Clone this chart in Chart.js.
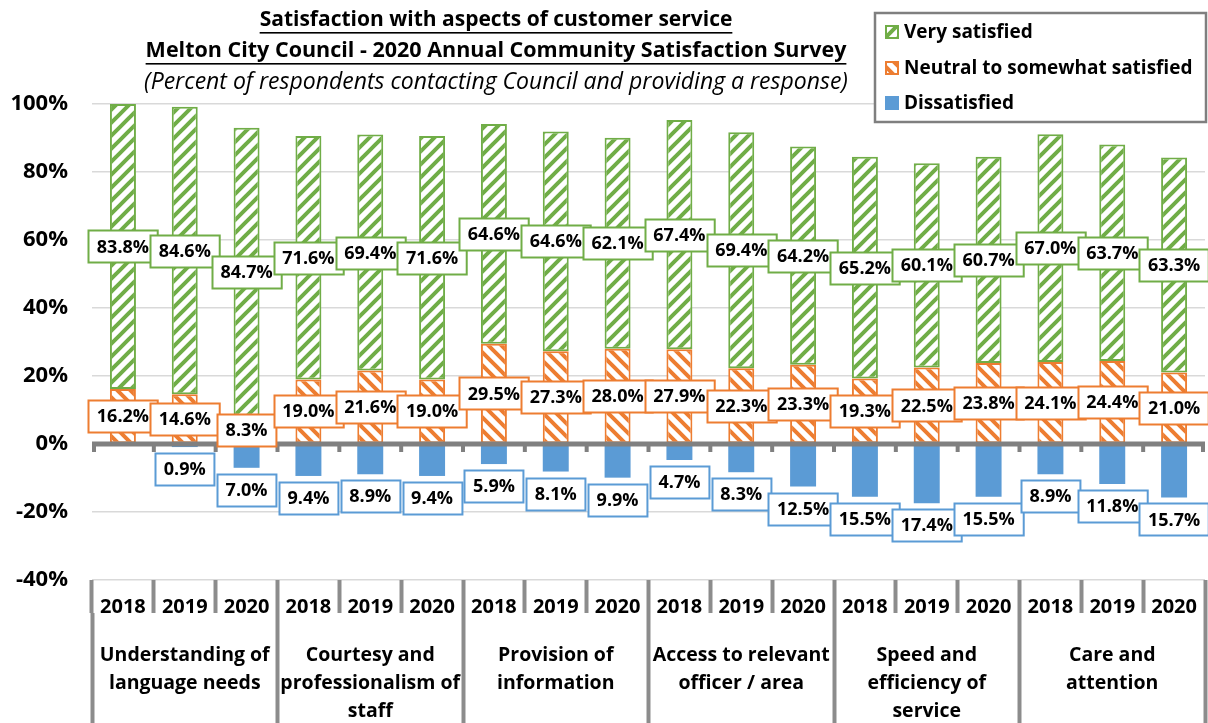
<!DOCTYPE html>
<html lang="en">
<head>
<meta charset="UTF-8">
<title>Satisfaction with aspects of customer service</title>
<script src="https://cdn.jsdelivr.net/npm/chart.js"></script>
<style>
  html, body { margin: 0; padding: 0; background: #fff; }
</style>
</head>
<body>
<canvas id="surveyChart" width="1208" height="723"></canvas>
<script>
// Survey years (one bar each) and the service aspects they are grouped under
const years = ['2018', '2019', '2020', '2018', '2019', '2020', '2018', '2019', '2020',
               '2018', '2019', '2020', '2018', '2019', '2020', '2018', '2019', '2020'];
const aspects = [
  ['Understanding of', 'language needs'],
  ['Courtesy and', 'professionalism of', 'staff'],
  ['Provision of', 'information'],
  ['Access to relevant', 'officer / area'],
  ['Speed and', 'efficiency of', 'service'],
  ['Care and', 'attention']
];

// Percent of respondents
const verySatisfied = [83.8, 84.6, 84.7, 71.6, 69.4, 71.6, 64.6, 64.6, 62.1,
                       67.4, 69.4, 64.2, 65.2, 60.1, 60.7, 67.0, 63.7, 63.3];
const neutral = [16.2, 14.6, 8.3, 19.0, 21.6, 19.0, 29.5, 27.3, 28.0,
                 27.9, 22.3, 23.3, 19.3, 22.5, 23.8, 24.1, 24.4, 21.0];
const dissatisfied = [null, 0.9, 7.0, 9.4, 8.9, 9.4, 5.9, 8.1, 9.9,
                      4.7, 8.3, 12.5, 15.5, 17.4, 15.5, 8.9, 11.8, 15.7];

const yTicks = [100, 80, 60, 40, 20, 0, -20, -40];

const FONT = '"Open Sans", "Noto Sans", sans-serif';
const GREEN = '#70AD47', ORANGE = '#ED7D31', BLUE = '#5B9BD5';

// diagonal hatch on white, dir 1 = "/" and -1 = "\"
function hatch(color, dir) {
    const size = 13;
    const c = document.createElement('canvas');
    c.width = c.height = size;
    const g = c.getContext('2d');
    g.fillStyle = '#fff';
    g.fillRect(0, 0, size, size);
    g.strokeStyle = color;
    g.lineWidth = 4;
    g.beginPath();
    for (let k = -1; k <= 1; k++) {
        const o = k * size;
        if (dir > 0) {
            g.moveTo(o - 2, size + 2); g.lineTo(o + size + 2, -2);
        } else {
            g.moveTo(o - 2, -2); g.lineTo(o + size + 2, size + 2);
        }
    }
    g.stroke();
    return g.createPattern(c, 'repeat');
}

const greenHatch = hatch(GREEN, 1);
const orangeHatch = hatch(ORANGE, -1);

// title, legend, zero line and boxed value labels
const decorations = {
    id: 'decorations',
    afterDatasetsDraw(chart) {
        const ctx = chart.ctx;
        const area = chart.chartArea;
        const xs = chart.scales.x;
        const ys = chart.scales.y;
        ctx.save();

        // thick category axis at 0 with small tick marks
        const y0 = ys.getPixelForValue(0);
        ctx.strokeStyle = '#808080';
        ctx.lineWidth = 5;
        ctx.beginPath();
        ctx.moveTo(area.left, y0);
        ctx.lineTo(area.right, y0);
        ctx.stroke();
        ctx.lineWidth = 4;
        const step = xs.width / years.length;
        ctx.beginPath();
        for (let i = 0; i <= years.length; i++) {
            const x = Math.min(Math.max(xs.left + i * step, area.left + 2), area.right - 2);
            ctx.moveTo(x, y0);
            ctx.lineTo(x, y0 + 8);
        }
        ctx.stroke();

        // value labels in boxes
        ctx.font = 'bold 18px ' + FONT;
        ctx.textAlign = 'center';
        ctx.textBaseline = 'middle';
        chart.data.datasets.forEach((ds, di) => {
            const meta = chart.getDatasetMeta(di);
            meta.data.forEach((bar, i) => {
                const v = ds.data[i];
                if (v === null || v === undefined) return;
                const text = Math.abs(v).toFixed(1) + '%';
                const w = ctx.measureText(text).width + 17;
                const h = 32;
                let cy;
                if (v < 0) cy = bar.y + 6 + h / 2;
                else cy = (bar.y + bar.base) / 2;
                const x = Math.round(bar.x - w / 2) + 0.5;
                const y = Math.round(cy - h / 2) + 0.5;
                ctx.fillStyle = '#fff';
                ctx.fillRect(x, y, w, h);
                ctx.strokeStyle = ds.borderColor || ds.backgroundColor;
                ctx.lineWidth = 2;
                ctx.strokeRect(x, y, w, h);
                ctx.fillStyle = '#000';
                ctx.fillText(text, bar.x, cy + 1);
            });
        });
        ctx.restore();
    },
    afterDraw(chart) {
        const ctx = chart.ctx;
        ctx.save();

        // title block
        const cx = 496;
        const lines = [
            { text: 'Satisfaction with aspects of customer service', y: 20, font: 'bold 21px ' + FONT, under: true },
            { text: 'Melton City Council - 2020 Annual Community Satisfaction Survey', y: 51, font: 'bold 21.5px ' + FONT, under: true },
            { text: '(Percent of respondents contacting Council and providing a response)', y: 82, font: 'italic 23px ' + FONT, under: false }
        ];
        ctx.fillStyle = '#000';
        ctx.textAlign = 'center';
        ctx.textBaseline = 'middle';
        lines.forEach(l => {
            ctx.font = l.font;
            ctx.fillText(l.text, cx, l.y);
            if (l.under) {
                const w = ctx.measureText(l.text).width;
                ctx.fillRect(cx - w / 2, l.y + 12, w, 1.6);
            }
        });

        // legend
        ctx.fillStyle = '#fff';
        ctx.fillRect(875, 13, 331, 109);
        ctx.strokeStyle = '#7f7f7f';
        ctx.lineWidth = 2.5;
        ctx.strokeRect(875, 13, 331, 109);
        const order = [2, 1, 0];
        const rows = [32, 68, 103];
        ctx.font = 'bold 19px ' + FONT;
        ctx.textAlign = 'left';
        order.forEach((di, r) => {
            const ds = chart.data.datasets[di];
            const y = rows[r];
            ctx.fillStyle = ds.backgroundColor;
            ctx.fillRect(885, y - 7, 14, 14);
            if (ds.borderColor) {
                ctx.strokeStyle = ds.borderColor;
                ctx.lineWidth = 2;
                ctx.strokeRect(886, y - 6, 12, 12);
            }
            ctx.fillStyle = '#000';
            ctx.fillText(ds.label, 904, y + 1);
        });
        ctx.restore();
    }
};

const ctx = document.getElementById('surveyChart').getContext('2d');
new Chart(ctx, {
    type: 'bar',
    data: {
        labels: years,
        datasets: [
            {
                label: 'Dissatisfied',
                data: dissatisfied.map(v => v === null ? null : -v),
                backgroundColor: BLUE,
                borderWidth: 0
            },
            {
                label: 'Neutral to somewhat satisfied',
                data: neutral,
                backgroundColor: orangeHatch,
                borderColor: ORANGE,
                borderWidth: 2,
                borderSkipped: false
            },
            {
                label: 'Very satisfied',
                data: verySatisfied,
                backgroundColor: greenHatch,
                borderColor: GREEN,
                borderWidth: 2,
                borderSkipped: false
            }
        ]
    },
    options: {
        responsive: false,
        animation: false,
        devicePixelRatio: 1,
        layout: { padding: { top: 104, right: 3, left: 0, bottom: 0 } },
        datasets: { bar: { barPercentage: 0.42, categoryPercentage: 1 } },
        plugins: {
            legend: { display: false },
            title: { display: false },
            tooltip: { enabled: false }
        },
        scales: {
            y: {
                stacked: true,
                min: -40,
                max: 100,
                afterBuildTicks: s => { s.ticks = yTicks.map(v => ({ value: v })); },
                afterFit: s => { s.width = 92; },
                ticks: {
                    padding: 24,
                    color: '#000',
                    font: { family: FONT, size: 22, weight: 'bold' },
                    callback: v => v + '%'
                },
                grid: {
                    drawTicks: false,
                    color: '#d9d9d9',
                    lineWidth: 1.5
                },
                border: { display: false }
            },
            x: {
                stacked: true,
                offset: true,
                weight: 0,
                afterFit: s => { s.height = 33; },
                grid: {
                    offset: true,
                    drawOnChartArea: false,
                    tickLength: 33,
                    tickWidth: 4,
                    tickColor: '#8c8c8c'
                },
                border: { display: false },
                ticks: {
                    padding: -18,
                    autoSkip: false,
                    maxRotation: 0,
                    color: '#000',
                    font: { family: FONT, size: 20, weight: 'bold' }
                }
            },
            x2: {
                type: 'category',
                position: 'bottom',
                labels: aspects,
                offset: true,
                weight: 1,
                afterFit: s => { s.height = 110; },
                grid: {
                    offset: true,
                    drawOnChartArea: false,
                    tickLength: 110,
                    tickWidth: 4,
                    tickColor: '#8c8c8c'
                },
                border: { display: false },
                ticks: {
                    padding: -82,
                    autoSkip: false,
                    maxRotation: 0,
                    color: '#000',
                    font: { family: FONT, size: 19.5, weight: 'bold', lineHeight: 1.45 }
                }
            }
        }
    },
    plugins: [decorations]
});
</script>
</body>
</html>
